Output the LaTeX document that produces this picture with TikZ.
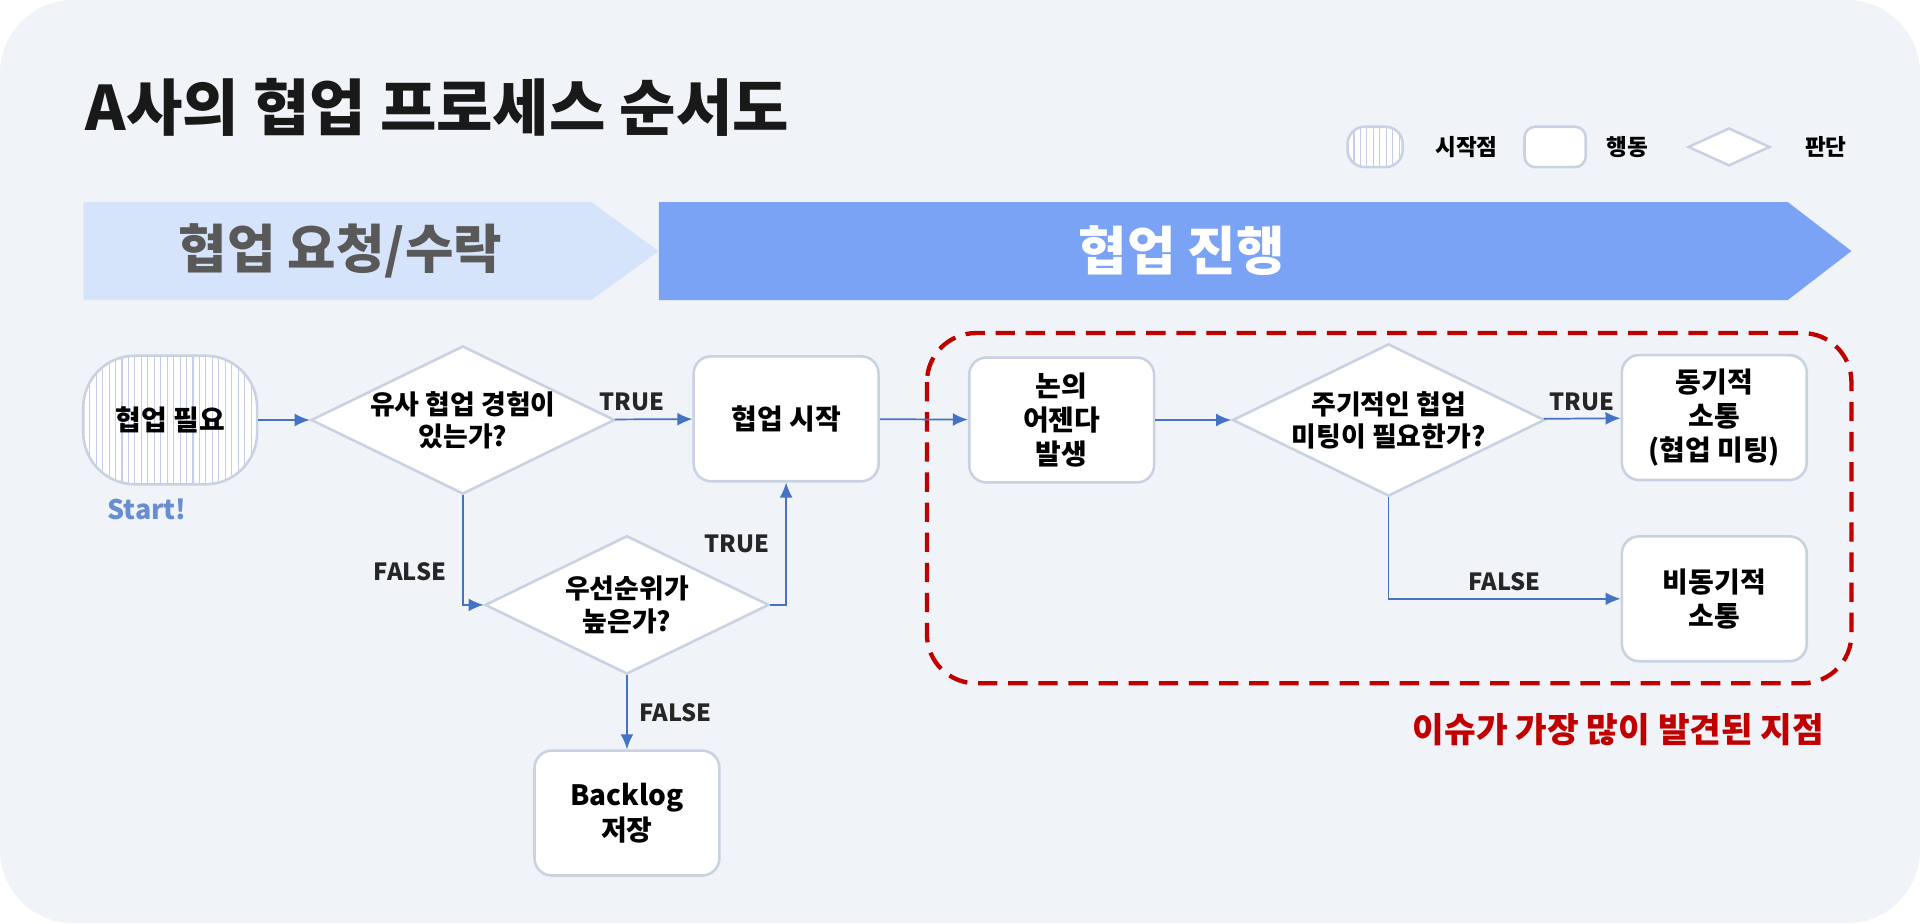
\documentclass[tikz,border=0pt]{standalone}
\usepackage{fontspec}
\setmainfont{Noto Sans CJK KR}
\usetikzlibrary{positioning,shapes.geometric,arrows.meta}
\definecolor{bgcol}{HTML}{F0F4F8}
\definecolor{edgecol}{HTML}{C9D2E0}
\definecolor{linecol}{HTML}{4472C4}
\definecolor{lightban}{HTML}{D6E4FB}
\definecolor{darkban}{HTML}{7BA3F5}
\definecolor{issuered}{HTML}{C00000}
\tikzset{
  act/.style={draw=edgecol, line width=1.2pt, fill=white, rounded corners=8pt, minimum width=3.02cm, minimum height=2.04cm, align=center, font=\fontsize{13}{16}\selectfont\bfseries},
  judge/.style={draw=edgecol, line width=1.2pt, fill=white, diamond, aspect=2.05, minimum width=4.64cm, minimum height=2.26cm, inner sep=0pt, align=center, font=\fontsize{12.5}{15}\selectfont\bfseries},
  startbox/.style={draw=edgecol, line width=1.2pt, fill=white, rounded corners=24pt, minimum width=2.84cm, minimum height=2.1cm, align=center, font=\fontsize{13}{16}\selectfont\bfseries,
    path picture={\foreach \i in {0,...,45} \draw[edgecol!80!blue!60, line width=0.5pt] ([xshift=\i*3pt]path picture bounding box.south west) -- ++(0,3cm);}},
  flow/.style={draw=linecol, line width=0.8pt, -{Latex[length=7pt,width=6pt]}},
  lab/.style={font=\fontsize{11}{13}\selectfont\bfseries, text=black!85},
}
\begin{document}
\begin{tikzpicture}[x=0.02cm,y=-0.02cm]
\fill[bgcol, rounded corners=1.2cm] (0,0) rectangle (1568,754);
\useasboundingbox (0,0) rectangle (1568,754);
% title and legend
\node[anchor=west, font=\fontsize{28.5}{32}\selectfont\bfseries, text=black!90] (title) at (64,88) {A사의 협업 프로세스 순서도};
\node[startbox, rounded corners=8pt, minimum width=0.9cm, minimum height=0.66cm] (legstart) at (1123,120) {};
\node[anchor=west, font=\fontsize{10.5}{12}\selectfont\bfseries] (legstarttxt) at (1166,120) {시작점};
\node[act, rounded corners=5pt, minimum width=1cm, minimum height=0.66cm] (legact) at (1270,120) {};
\node[anchor=west, font=\fontsize{10.5}{12}\selectfont\bfseries] (legacttxt) at (1306,120) {행동};
\node[judge, minimum width=1.34cm, minimum height=0.62cm, aspect=2.2] (legjudge) at (1412,120) {};
\node[anchor=west, font=\fontsize{10.5}{12}\selectfont\bfseries] (legjudgetxt) at (1468,120) {판단};
% phase banners
\fill[lightban] (68,165) -- (483,165) -- (538,205) -- (483,245) -- (68,245) -- cycle;
\node[font=\fontsize{24.5}{28}\selectfont\bfseries, text=black!65] (phase1) at (278,205) {협업 요청/수락};
\fill[darkban] (538,165) -- (1460,165) -- (1512,205) -- (1460,245) -- (538,245) -- cycle;
\node[font=\fontsize{24.5}{28}\selectfont\bfseries, text=white] (phase2) at (965,205) {협업 진행};
% issue region
\draw[issuered, line width=2pt, dash pattern=on 9pt off 5pt, rounded corners=0.8cm] (757,272) rectangle (1512,558);
\node[anchor=east, font=\fontsize{16}{19}\selectfont\bfseries, text=issuered] (issue) at (1496,596) {이슈가 가장 많이 발견된 지점};
% nodes
\node[startbox] (need) at (139,343) {협업 필요};
\node[font=\fontsize{12.5}{14}\selectfont\bfseries, text=linecol!80!white] (start) at (120,416) {Start!};
\node[judge] (similar) at (378,343) {유사 협업 경험이\\있는가?};
\node[act] (begin) at (642,342) {협업 시작};
\node[judge] (priority) at (512,494) {우선순위가\\높은가?};
\node[act] (backlog) at (512,664) {Backlog\\저장};
\node[act] (agenda) at (867,343) {논의\\어젠다\\발생};
\node[judge] (periodic) at (1134,343) {주기적인 협업\\미팅이 필요한가?};
\node[act] (sync) at (1400,341) {동기적\\소통\\(협업 미팅)};
\node[act] (async) at (1400,489) {비동기적\\소통};
% connectors
\draw[flow] (need) -- (similar);
\draw[flow] (similar) -- node[lab, above, xshift=-10pt] {TRUE} (begin);
\draw[flow] (similar.south) |- node[lab, pos=0.35, left, xshift=-4pt] {FALSE} (priority.west);
\draw[flow] (priority.east) -| node[lab, pos=0.75, left, xshift=-4pt] {TRUE} (begin.south);
\draw[flow] (priority) -- node[lab, right, xshift=2pt] {FALSE} (backlog);
\draw[flow] (begin) -- (agenda);
\draw[flow] (agenda) -- (periodic);
\draw[flow] (periodic) -- node[lab, above] {TRUE} (sync);
\draw[flow] (periodic.south) |- node[lab, pos=0.75, above] {FALSE} (async.west);
\end{tikzpicture}
\end{document}
